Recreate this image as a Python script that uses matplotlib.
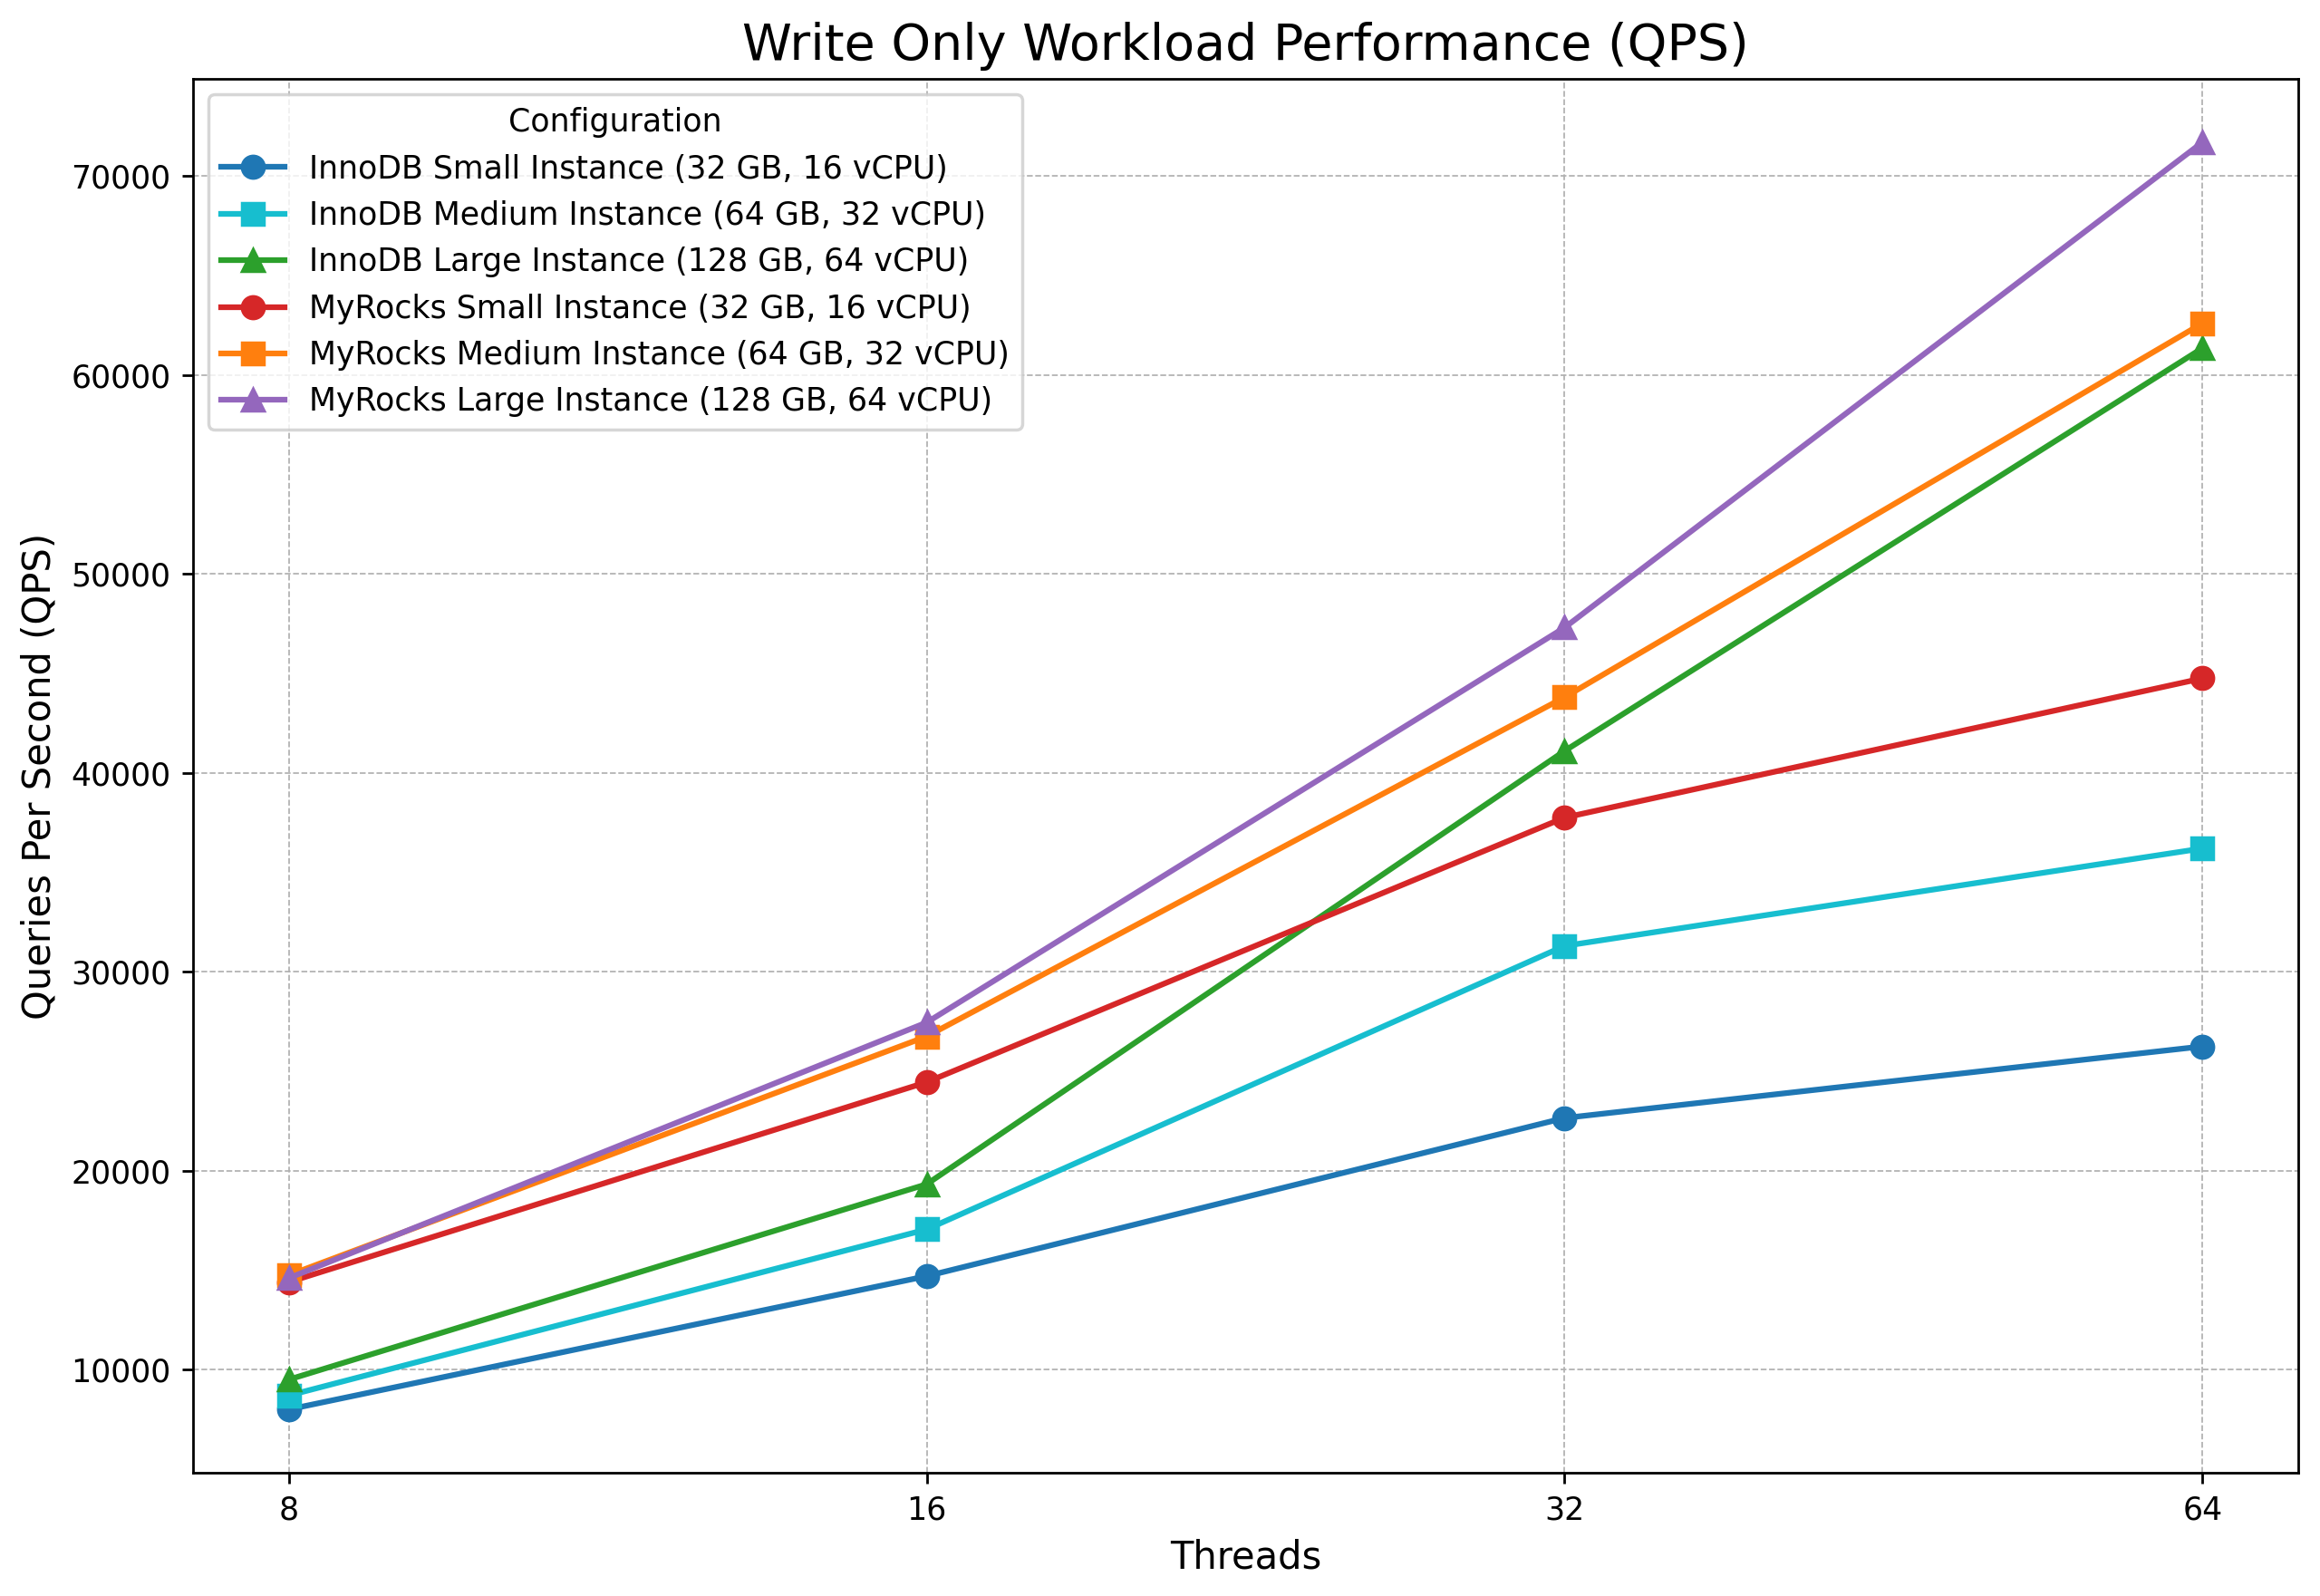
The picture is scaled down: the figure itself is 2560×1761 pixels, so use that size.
import matplotlib
matplotlib.use("Agg")
import matplotlib.pyplot as plt

threads = [8, 16, 32, 64]

innodb_small = [8000, 14700, 22650, 26250]
innodb_medium = [8700, 17050, 31300, 36200]
innodb_large = [9500, 19320, 41100, 61350]
myrocks_small = [14400, 24450, 37750, 44750]
myrocks_medium = [14750, 26750, 43800, 62600]
myrocks_large = [14600, 27450, 47300, 71700]

labels = [
    "InnoDB Small Instance (32 GB, 16 vCPU)",
    "InnoDB Medium Instance (64 GB, 32 vCPU)",
    "InnoDB Large Instance (128 GB, 64 vCPU)",
    "MyRocks Small Instance (32 GB, 16 vCPU)",
    "MyRocks Medium Instance (64 GB, 32 vCPU)",
    "MyRocks Large Instance (128 GB, 64 vCPU)",
]
series = [innodb_small, innodb_medium, innodb_large,
          myrocks_small, myrocks_medium, myrocks_large]
colors = ["tab:blue", "tab:cyan", "tab:green", "tab:red", "tab:orange", "tab:purple"]
markers = ["o", "s", "^", "o", "s", "^"]

fig, ax = plt.subplots(figsize=(10.24, 7.044), dpi=250)
fig.subplots_adjust(left=0.0832, right=0.9906, top=0.9506, bottom=0.0772)

x = range(len(threads))
for vals, lab, c, m in zip(series, labels, colors, markers):
    ax.plot(x, vals, marker=m, color=c, label=lab, linewidth=1.8, markersize=7)

ax.set_xticks(list(x))
ax.set_xticklabels([str(t) for t in threads])
ax.set_title("Write Only Workload Performance (QPS)", fontsize=16)
ax.set_xlabel("Threads", fontsize=12)
ax.set_ylabel("Queries Per Second (QPS)", fontsize=12)
ax.grid(True, linestyle="--", linewidth=0.5, color="#b0b0b0")
ax.legend(title="Configuration", loc="upper left")

plt.savefig("out.png", dpi=250)
